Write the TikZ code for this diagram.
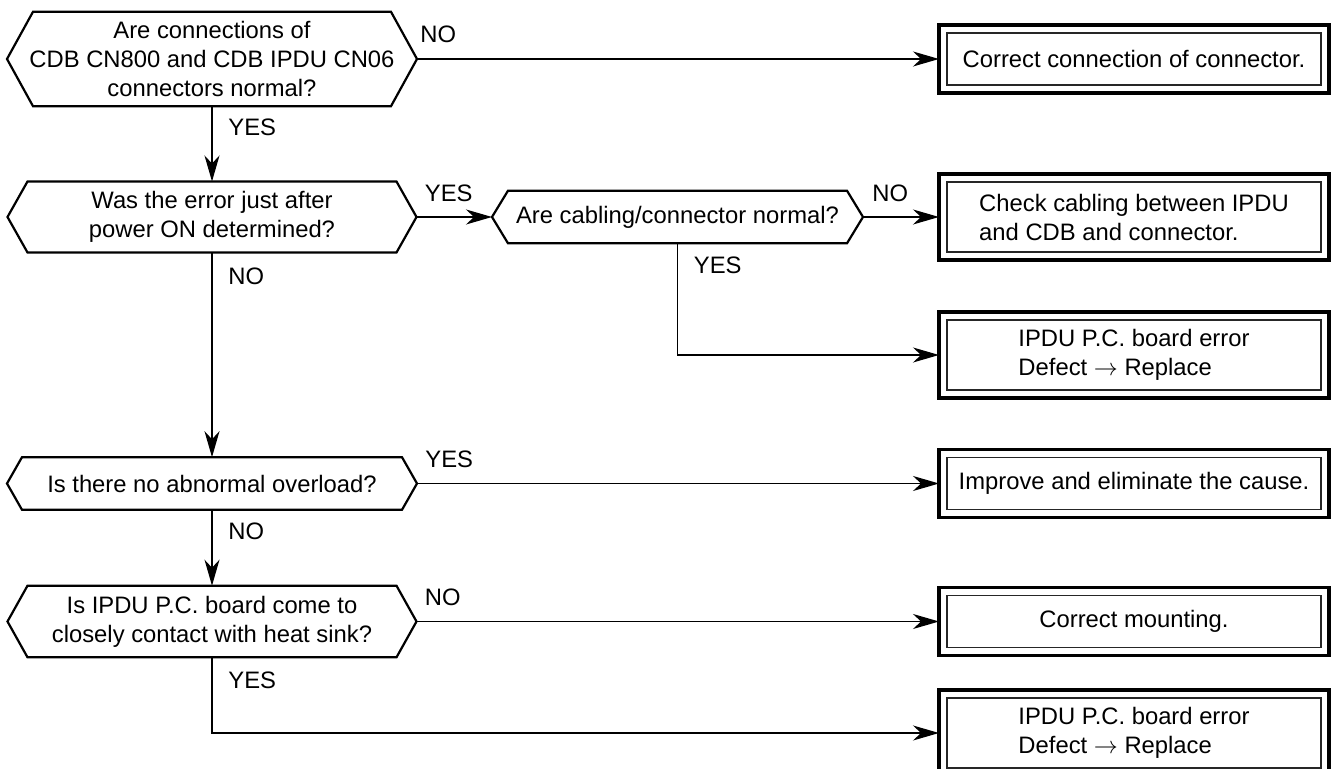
\documentclass[tikz,border=0pt]{standalone}
\usepackage{fontspec}
\setmainfont{Liberation Sans}
\usetikzlibrary{arrows.meta}
\begin{document}
\begin{tikzpicture}[
    x=0.5pt, y=-0.5pt,
    every node/.style={font=\fontsize{11.9pt}{14.5pt}\selectfont},
    hexnode/.style={rectangle, outer sep=0pt, inner sep=0pt, align=center},
    hexline/.style={line width=1.1pt, line join=miter},
    endbox/.style={draw, line width=1.6pt, outer sep=0pt, inner sep=0pt, minimum width=195pt, align=left},
    innerline/.style={line width=0.55pt, black!85},
    flow/.style={line width=0.65pt, -{Stealth[length=13pt, width=7.5pt, inset=4pt]}},
    tag/.style={anchor=west, inner sep=0pt},
]
    \useasboundingbox (0,0) rectangle (1337,769);

    % questions
    \node[hexnode, minimum width=205pt, minimum height=47.2pt] (q1) at (212,59)
        {Are connections of\\CDB CN800 and CDB IPDU CN06\\connectors normal?};
    \node[hexnode, minimum width=204.5pt, minimum height=35.5pt] (q2) at (212,217)
        {Was the error just after\\power ON determined?};
    \node[hexnode, minimum width=185.5pt, minimum height=26.3pt] (q3) at (677.5,217)
        {Are cabling/connector normal?};
    \node[hexnode, minimum width=205pt, minimum height=26.3pt] (q4) at (212,483.5)
        {Is there no abnormal overload?};
    \node[hexnode, minimum width=204.5pt, minimum height=35.8pt] (q5) at (212,621.5)
        {Is IPDU P.C. board come to\\closely contact with heat sink?};
    \foreach \q/\c in {q1/13pt, q2/10pt, q3/8pt, q4/7.5pt, q5/10pt}
        \draw[hexline] (\q.west) -- ([xshift=\c]\q.north west) -- ([xshift=-\c]\q.north east)
            -- (\q.east) -- ([xshift=-\c]\q.south east) -- ([xshift=\c]\q.south west) -- cycle;

    % results
    \node[endbox, minimum height=34pt] (b1) at (1134,59) {Correct connection of connector.};
    \node[endbox, minimum height=43pt] (b2) at (1134,217) {Check cabling between IPDU\\and CDB and connector.};
    \node[endbox, minimum height=43pt] (b3) at (1134,355) {IPDU P.C. board error\\Defect $\rightarrow$ Replace};
    \node[endbox, minimum height=34pt] (b4) at (1134,483.5) {Improve and eliminate the cause.};
    \node[endbox, minimum height=34pt] (b5) at (1134,621.5) {Correct mounting.};
    \node[endbox, minimum height=43pt] (b6) at (1134,733) {IPDU P.C. board error\\Defect $\rightarrow$ Replace};
    \foreach \b in {b1,b2,b3,b4,b5,b6}
        \draw[innerline] ([shift={(4pt,-4pt)}]\b.north west) rectangle ([shift={(-4pt,4pt)}]\b.south east);

    % answers
    \node[tag] (t1) at ([shift={(1.5pt,12.5pt)}]q1.east) {NO};
    \node[tag] (t2) at ([shift={(8pt,-10.5pt)}]q1.south) {YES};
    \node[tag] (t3) at ([shift={(4pt,12pt)}]q2.east) {YES};
    \node[tag] (t4) at ([shift={(8pt,-12pt)}]q2.south) {NO};
    \node[tag] (t5) at ([shift={(4.5pt,12pt)}]q3.east) {NO};
    \node[tag] (t6) at ([shift={(8pt,-11pt)}]q3.south) {YES};
    \node[tag] (t7) at ([shift={(4pt,12pt)}]q4.east) {YES};
    \node[tag] (t8) at ([shift={(8pt,-11pt)}]q4.south) {NO};
    \node[tag] (t9) at ([shift={(4pt,12pt)}]q5.east) {NO};
    \node[tag] (t10) at ([shift={(8pt,-11.5pt)}]q5.south) {YES};

    \draw[flow] (q1.east) -- (b1.west);
    \draw[flow] (q1.south) -- (q2.north);
    \draw[flow] (q2.east) -- (q3.west);
    \draw[flow] (q3.east) -- (b2.west);
    \draw[flow] (q3.south) |- (b3.west);
    \draw[flow] (q2.south) -- (q4.north);
    \draw[flow] (q4.east) -- (b4.west);
    \draw[flow] (q4.south) -- (q5.north);
    \draw[flow] (q5.east) -- (b5.west);
    \draw[flow] (q5.south) |- (b6.west);
\end{tikzpicture}
\end{document}
